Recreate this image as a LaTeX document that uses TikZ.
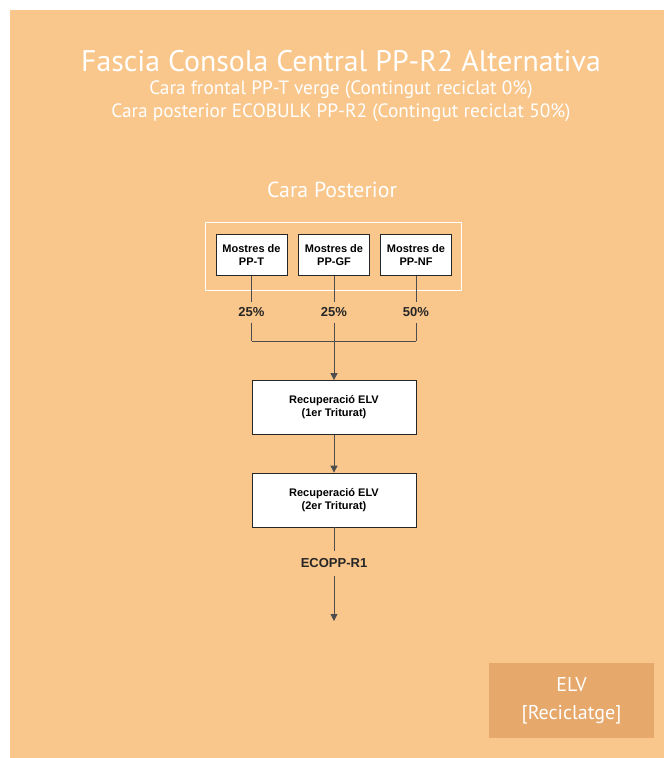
\documentclass[tikz,border=0pt]{standalone}
\usepackage{fontspec}
\setmainfont{PT Sans}
\newfontfamily\arialfont{Liberation Sans}
\usetikzlibrary{positioning,arrows.meta}

\definecolor{fonsorange}{HTML}{F9C78C}
\definecolor{elvorange}{HTML}{E6A86B}
\definecolor{liniagris}{HTML}{4D4D4D}

\begin{document}
\begin{tikzpicture}[x=1pt,y=-1pt,
    caixa/.style={draw=black!85,fill=white,line width=0.8pt,align=center,inner sep=0pt,
        font=\arialfont\bfseries\fontsize{11}{13}\selectfont},
    etiqueta/.style={font=\arialfont\bfseries\fontsize{13}{15}\selectfont,text=black!85,inner xsep=2pt,inner ysep=6pt},
    linia/.style={draw=liniagris,line width=0.9pt},
    fletxa/.style={linia,-{Triangle[width=7pt,length=7pt]}}]

    \useasboundingbox (0,0) rectangle (664,758);
    % background
    \fill[fonsorange] (10,10) rectangle (664,758);

    % titles
    \node[text=white,font=\fontsize{29.8}{32}\selectfont] (titol) at (341,61) {Fascia Consola Central PP-R2 Alternativa};
    \node[text=white,font=\fontsize{19.3}{22}\selectfont] (sub1) at (341,90) {Cara frontal PP-T verge (Contingut reciclat 0\%)};
    \node[text=white,font=\fontsize{19.3}{22}\selectfont] (sub2) at (341,113) {Cara posterior ECOBULK PP-R2 (Contingut reciclat 50\%)};
    \node[text=white,font=\fontsize{21.8}{24}\selectfont] (posterior) at (332,190) {Cara Posterior};

    % frame round the samples
    \node[draw=white,line width=0.8pt,minimum width=256pt,minimum height=68pt] (marc) at (333,256) {};
    \coordinate (uni) at (334,341);

    % samples and shares
    \foreach \nom/\x/\pct [count=\i] in {PP-T/251.5/25,PP-GF/334/25,PP-NF/416/50} {
        \node[caixa,minimum width=71pt,minimum height=41pt] (m\i) at (\x,255) {Mostres de\\\nom};
        \node[etiqueta] (p\i) at (\x,312.5) {\pct\%};
        \draw[linia] (m\i) -- (p\i);
        \draw[linia] (p\i) -- (p\i |- uni);
    };
    \draw[linia] (p1 |- uni) -- (p3 |- uni);

    % recovery
    \node[caixa,minimum width=164pt,minimum height=54pt] (rec1) at (334,407.5) {Recuperació ELV\\(1er Triturat)};
    \node[caixa,minimum width=164pt,minimum height=54pt] (rec2) at (334,500) {Recuperació ELV\\(2er Triturat)};
    \node[etiqueta,inner ysep=8pt] (eco) at (334,563.5) {ECOPP-R1};
    \coordinate (sortida) at (334,621);
    \draw[fletxa] (uni) -- (rec1);
    \draw[fletxa] (rec1) -- (rec2);
    \draw[linia] (rec2) -- (eco);
    \draw[fletxa] (eco) -- (sortida);

    % recycling tag
    \node[fill=elvorange,text=white,align=center,minimum width=165pt,minimum height=75pt,
        font=\fontsize{20}{28}\selectfont] (elv) at (571.5,700.5) {ELV\\{[Reciclatge]}};

\end{tikzpicture}
\end{document}
